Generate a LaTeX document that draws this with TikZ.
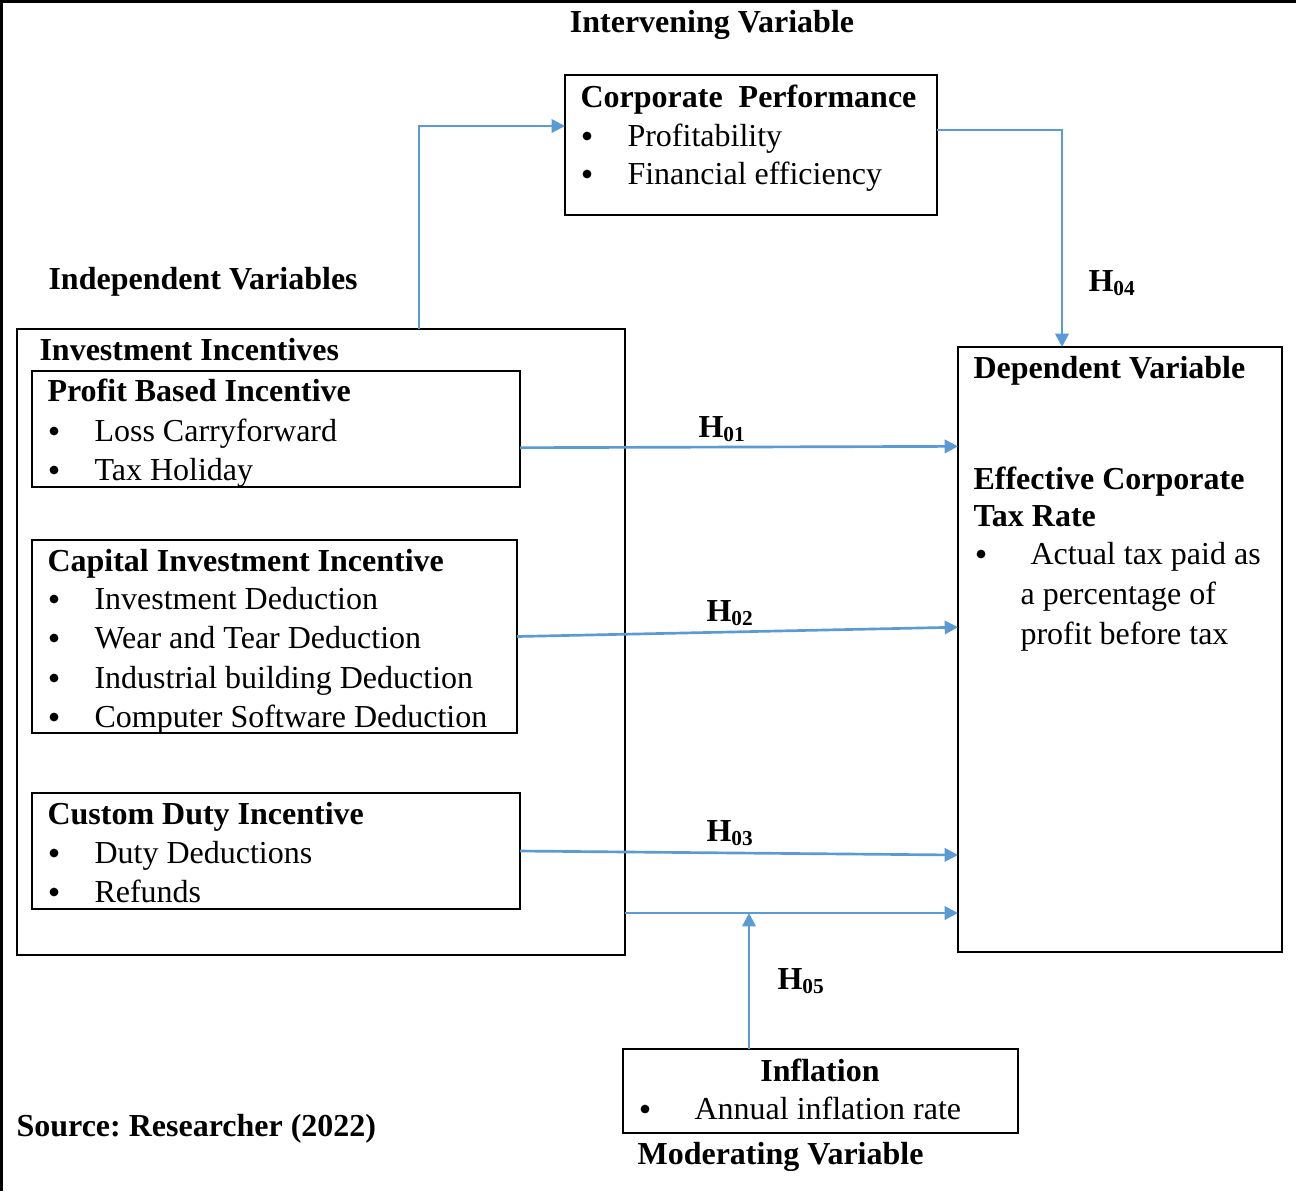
\documentclass[tikz,border=0pt]{standalone}
\usepackage{fontspec}
\setmainfont{Liberation Serif}
\frenchspacing
\definecolor{arrowblue}{RGB}{91, 155, 213}
\usetikzlibrary{arrows.meta, positioning, calc}

\begin{document}
\begin{tikzpicture}[
  x=0.375pt, y=-0.375pt,
  font=\fontsize{12}{14}\selectfont,
  box/.style={draw, line width=0.75pt, inner sep=0pt, outer sep=0pt},
  head/.style={font=\fontsize{12}{14}\selectfont\bfseries, anchor=base west, inner sep=0pt},
  item/.style={anchor=base west, inner sep=0pt},
  dot/.style={circle, fill, inner sep=0pt, minimum size=3.3pt},
  hlabel/.style={font=\fontsize{12}{14}\selectfont\bfseries, anchor=base west, inner sep=0pt},
  conn/.style={arrowblue, line width=1pt, -{Triangle[length=5pt, width=5pt]}}
]
  \useasboundingbox (0,0) rectangle (1296,1191);
  % Frame (top and left only)
  \draw[line width=1.1pt] (1.5,1191) -- (1.5,1.5) -- (1296,1.5);

  % Intervening variable
  \node[head, anchor=base] (intlab) at (712,32) {Intervening Variable};
  \node[box, minimum width=139.5pt, minimum height=52.5pt] (perf) at (751,145) {};
  \node[head] (perft) at (580,107) {Corporate\ \ Performance};
  \foreach \y/\txt [count=\i] in {146/Profitability, 184/Financial efficiency} {
    \node[dot] (pfd\i) at (587,\y-10) {};
    \node[item] (pft\i) at (627,\y) {\txt};
  }

  % Independent variables
  \node[head] (indlab) at (48,289) {Independent Variables};
  \node[box, minimum width=228pt, minimum height=234.75pt] (inv) at (321,642) {};
  \node[head] (invt) at (39,360) {Investment Incentives};

  \node[box, minimum width=183pt, minimum height=43.5pt] (pbi) at (276,429) {};
  \node[head] (pbit) at (47,401) {Profit Based Incentive};
  \foreach \y/\txt [count=\i] in {441/Loss Carryforward, 480/Tax Holiday} {
    \node[dot] (pbd\i) at (54,\y-10) {};
    \node[item] (pbt\i) at (94,\y) {\txt};
  }

  \node[box, minimum width=181.9pt, minimum height=72.4pt] (cii) at (274.5,636.5) {};
  \node[head] (ciit) at (47,571) {Capital Investment Incentive};
  \foreach \y/\txt [count=\i] in {609/Investment Deduction, 648/Wear and Tear Deduction,
      688/Industrial building Deduction, 727/Computer Software Deduction} {
    \node[dot] (cid\i) at (54,\y-10) {};
    \node[item] (cit\i) at (94,\y) {\txt};
  }

  \node[box, minimum width=183pt, minimum height=43.5pt] (cdi) at (276,851) {};
  \node[head] (cdit) at (47,824) {Custom Duty Incentive};
  \foreach \y/\txt [count=\i] in {863/Duty Deductions, 902/Refunds} {
    \node[dot] (cdd\i) at (54,\y-10) {};
    \node[item] (cdt\i) at (94,\y) {\txt};
  }

  % Dependent variable
  \node[box, minimum width=121.5pt, minimum height=226.9pt] (dep) at (1120,649.5) {};
  \node[head] (dept) at (973,378) {Dependent Variable};
  \node[head] (ect1) at (973,489) {Effective Corporate};
  \node[head] (ect2) at (973,526) {Tax Rate};
  \node[dot] (depd) at (981,554) {};
  \node[item] (dep1) at (1030,564) {Actual tax paid as};
  \node[item] (dep2) at (1020,604) {a percentage of};
  \node[item] (dep3) at (1020,644) {profit before tax};

  % Moderating variable
  \node[box, minimum width=148.1pt, minimum height=31.5pt] (infl) at (820.5,1091) {};
  \node[head, anchor=base] (inflt) at (820,1081) {Inflation};
  \node[dot] (infd) at (645,1109) {};
  \node[item] (inft) at (694,1119) {Annual inflation rate};
  \node[head] (modlab) at (637,1164) {Moderating Variable};

  \node[head] (src) at (16,1136) {Source: Researcher (2022)};

  % Connectors
  \coordinate (up1) at (419,126);
  \draw[conn] (inv.north -| up1) -- (up1) -- (up1 -| perf.west);
  \coordinate (turn4) at (1062,130);
  \draw[conn] (perf.east |- turn4) -- (turn4) -- (turn4 |- dep.north);
  \draw[conn] ([yshift=-7pt]pbi.east) -- ([yshift=-6.5pt]pbi.east -| dep.west);
  \draw[conn] (cii.east) -- ([yshift=3.5pt]cii.east -| dep.west);
  \draw[conn] (cdi.east) -- ([yshift=-1.5pt]cdi.east -| dep.west);
  \coordinate (mod) at (749,913);
  \draw[conn] (inv.east |- mod) -- (mod -| dep.west);
  \draw[conn] (infl.north -| mod) -- (mod);

  % Hypothesis labels
  \node[hlabel] (h1) at (698,437) {H\textsubscript{01}};
  \node[hlabel] (h2) at (706,621) {H\textsubscript{02}};
  \node[hlabel] (h3) at (706,841) {H\textsubscript{03}};
  \node[hlabel] (h4) at (1088,291) {H\textsubscript{04}};
  \node[hlabel] (h5) at (777,989) {H\textsubscript{05}};
\end{tikzpicture}
\end{document}
